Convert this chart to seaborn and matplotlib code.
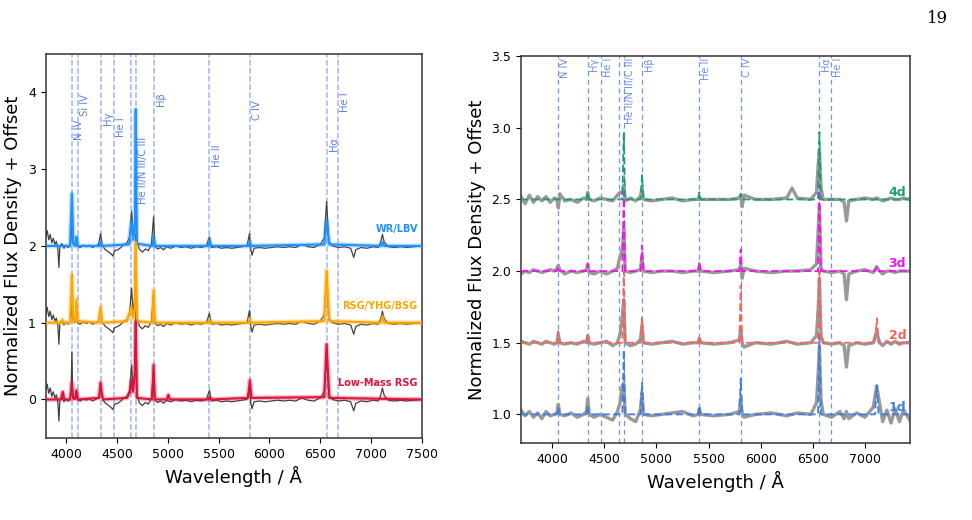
import numpy as np
import pandas as pd
import matplotlib
matplotlib.use("Agg")
import matplotlib.pyplot as plt
import seaborn as sns

# =========================
# Left panel: observed spectrum (relative to continuum) and templates
# =========================
LEFT_WL = [
    3800, 3815, 3830, 3845, 3860, 3875, 3890, 3905, 3920, 3930,
    3940, 3960, 3980, 4000, 4020, 4040, 4050, 4058, 4066, 4085,
    4100, 4112, 4140, 4170, 4200, 4230, 4260, 4290, 4320, 4340,
    4355, 4380, 4410, 4440, 4460, 4480, 4510, 4540, 4570, 4600,
    4625, 4645, 4660, 4675, 4686, 4697, 4720, 4750, 4780, 4810,
    4840, 4861, 4874, 4900, 4930, 4960, 4990, 5030, 5080, 5130,
    5180, 5230, 5280, 5330, 5380, 5411, 5430, 5480, 5530, 5580,
    5630, 5680, 5730, 5780, 5805, 5818, 5830, 5850, 5900, 5960,
    6020, 6080, 6140, 6200, 6260, 6320, 6380, 6440, 6500, 6540,
    6563, 6585, 6620, 6680, 6740, 6800, 6830, 6850, 6900, 6960,
    7020, 7070, 7095, 7112, 7130, 7170, 7230, 7290, 7350, 7420,
    7500,
]
LEFT_OBS = [
    0.12, 0.20, 0.08, 0.15, 0.04, 0.10, 0.02, 0.06, -0.04, -0.28,
    0.00, 0.03, -0.03, 0.01, -0.02, 0.00, 0.10, 0.62, 0.05, 0.00,
    0.12, 0.00, -0.02, 0.01, -0.01, 0.01, -0.02, 0.00, 0.02, 0.16,
    0.02, -0.04, -0.07, -0.10, -0.13, -0.06, -0.05, -0.02, 0.02, 0.04,
    0.12, 0.45, 0.15, 0.30, 1.15, 0.08, -0.04, -0.08, -0.04, -0.06,
    0.02, 0.38, 0.00, -0.04, -0.02, -0.05, -0.01, -0.03, 0.00, -0.02,
    -0.01, -0.03, -0.01, -0.02, 0.00, 0.12, -0.02, -0.01, -0.03, -0.02,
    -0.03, -0.02, -0.01, 0.00, 0.16, -0.05, -0.12, -0.03, -0.02, -0.03,
    -0.02, -0.01, -0.02, -0.01, -0.02, 0.02, -0.01, -0.02, 0.02, 0.10,
    0.58, 0.06, 0.00, -0.02, -0.01, -0.03, -0.15, -0.05, -0.02, -0.03,
    -0.01, -0.02, 0.05, 0.15, 0.05, -0.01, -0.02, -0.01, -0.02, -0.01,
    0.00,
]

WR_WL = [3800, 4040, 4058, 4072, 4095, 4103, 4115, 4330, 4340, 4350, 4620,
         4645, 4662, 4678, 4686, 4696, 4850, 4861, 4875, 5400, 5411, 5425,
         5795, 5808, 5820, 6540, 6563, 6590, 7100, 7115, 7130, 7500]
WR_FLUX = [0, 0, 0.68, 0.02, 0.0, 0.12, 0.0, 0.0, 0.05, 0.0, 0.02,
           0.32, 0.08, 0.3, 1.78, 0.03, 0.0, 0.12, 0.0, 0.0, 0.08, 0.0,
           0.0, 0.06, 0.0, 0.02, 0.33, 0.02, 0.0, 0.05, 0.0, 0.0]

RSG_WL = [3800, 3950, 3965, 3980, 4040, 4058, 4072, 4092, 4103, 4115, 4320,
          4340, 4355, 4600, 4640, 4660, 4676, 4686, 4697, 4848, 4861, 4874,
          5400, 5411, 5420, 5798, 5808, 5818, 6540, 6563, 6590, 7095, 7115,
          7130, 7500]
RSG_FLUX = [0, 0, 0.04, 0, 0, 0.62, 0.02, 0.02, 0.3, 0.02, 0,
            0.2, 0, 0.02, 0.2, 0.06, 0.2, 1.05, 0.02, 0, 0.42, 0,
            0, 0.03, 0, 0, 0.05, 0, 0.02, 0.68, 0.02, 0, 0.08,
            0, 0]

LM_WL = [3800, 3950, 3968, 3985, 4040, 4058, 4070, 4090, 4103, 4115, 4325,
         4340, 4352, 4365, 4600, 4630, 4645, 4660, 4676, 4686, 4697, 4848,
         4861, 4874, 4990, 5007, 5020, 5400, 5411, 5420, 5790, 5808, 5825,
         6540, 6563, 6590, 7500]
LM_FLUX = [0, 0, 0.1, 0, 0, 0.22, 0.01, 0.01, 0.12, 0, 0.02,
           0.22, 0.08, 0, 0.02, 0.1, 0.25, 0.1, 0.35, 1.02, 0.02, 0,
           0.45, 0, 0, 0.06, 0, 0, 0.03, 0, 0.02, 0.25, 0.02,
           0.03, 0.72, 0.02, 0]

LEFT_CLASSES = ["WR/LBV", "RSG/YHG/BSG", "Low-Mass RSG"]
LEFT_OFFSETS = [2, 1, 0]
LEFT_COLORS = ["#1E90FF", "#FFA500", "#DC143C"]

LEFT_LINES = [4058, 4116, 4340, 4471, 4640, 4686, 4861, 5411, 5808, 6563, 6678]
LEFT_LINE_LABELS = ["N IV", "Si IV", "Hγ", "He I", "", "He II/N III/C III",
                    "Hβ", "He II", "C IV", "Hα", "He I"]
LEFT_LABEL_TOPS = [3.64, 3.98, 3.75, 3.67, 3.4, 3.42, 4.0, 3.32, 3.9, 3.42, 4.0]

# =========================
# Right panel: epochs (gray observed, dashed model)
# =========================
R_WL = [
    3700, 3740, 3780, 3820, 3860, 3900, 3940, 3980, 4020, 4045,
    4058, 4072, 4120, 4180, 4240, 4300, 4328, 4340, 4354, 4400,
    4460, 4520, 4580, 4625, 4650, 4672, 4686, 4700, 4750, 4800,
    4845, 4861, 4876, 4950, 5050, 5150, 5250, 5350, 5400, 5411,
    5424, 5550, 5700, 5795, 5808, 5822, 5840, 5950, 6100, 6250,
    6300, 6350, 6480, 6535, 6552, 6563, 6578, 6600, 6680, 6760,
    6800, 6822, 6845, 6920, 7000, 7080, 7112, 7140, 7170, 7210,
    7250, 7290, 7330, 7370, 7430,
]
OBS_1D = [
    0.03, -0.01, 0.02, -0.02, 0.01, -0.03, 0.02, -0.01, 0.0, 0.01,
    0.07, 0.0, -0.01, 0.01, -0.02, 0.0, 0.02, 0.11, 0.0, -0.02,
    0.0, -0.02, -0.04, 0.02, 0.08, 0.2, 0.22, 0.0, -0.03, -0.05,
    0.03, 0.15, 0.0, -0.01, 0.0, 0.01, 0.02, -0.01, 0.0, 0.04,
    0.0, -0.01, 0.0, 0.02, 0.12, 0.0, -0.02, 0.0, 0.01, -0.01,
    0.0, 0.01, 0.0, 0.08, 0.3, 0.47, 0.1, 0.0, -0.02, 0.02,
    -0.03, 0.02, -0.03, 0.01, -0.02, 0.05, 0.2, 0.08, -0.05, 0.03,
    -0.06, 0.04, -0.05, 0.03, -0.04,
]
OBS_2D = [
    0.01, 0.0, -0.01, 0.01, 0.0, -0.01, 0.01, 0.0, -0.01, 0.0,
    0.06, 0.0, -0.01, 0.0, -0.01, 0.01, 0.0, 0.05, 0.0, -0.01,
    0.0, 0.01, -0.02, 0.0, 0.06, 0.18, 0.3, 0.0, -0.02, -0.01,
    0.02, 0.12, 0.0, -0.01, 0.0, 0.01, -0.01, 0.0, 0.0, 0.03,
    0.0, -0.01, 0.0, 0.02, 0.1, 0.0, -0.03, 0.0, -0.01, 0.01,
    0.0, -0.01, 0.0, 0.05, 0.25, 0.45, 0.05, 0.0, -0.01, 0.0,
    -0.02, -0.17, -0.02, 0.0, -0.01, 0.0, 0.08, 0.0, -0.02, 0.01,
    -0.01, 0.01, -0.01, 0.0, 0.0,
]
OBS_3D = [
    -0.02, 0.0, -0.01, 0.01, 0.0, -0.01, 0.0, 0.01, 0.0, 0.02,
    0.04, 0.01, -0.02, 0.0, -0.01, 0.0, 0.01, 0.05, -0.01, -0.02,
    0.0, -0.02, 0.0, 0.02, 0.1, 0.15, 0.3, 0.0, -0.01, 0.0,
    0.01, 0.1, 0.0, -0.01, 0.0, 0.0, -0.01, 0.0, 0.0, 0.03,
    0.0, -0.01, 0.0, 0.01, 0.05, -0.05, 0.02, 0.0, -0.01, 0.0,
    0.0, 0.0, 0.01, 0.05, 0.3, 0.45, 0.02, 0.0, -0.01, 0.0,
    -0.02, -0.2, -0.02, 0.0, 0.01, -0.01, 0.03, 0.0, -0.02, 0.0,
    0.0, -0.01, 0.0, 0.0, 0.0,
]
OBS_4D = [
    0.02, -0.03, 0.03, -0.02, 0.02, -0.01, 0.02, -0.02, 0.01, 0.0,
    -0.06, 0.04, -0.01, 0.0, -0.02, 0.01, 0.0, 0.05, 0.0, -0.01,
    0.01, 0.0, -0.01, 0.03, 0.05, 0.04, 0.1, -0.01, 0.01, -0.01,
    0.02, 0.08, 0.0, -0.01, 0.0, 0.01, -0.01, 0.0, 0.0, 0.02,
    0.0, 0.0, 0.0, 0.01, 0.03, -0.05, 0.03, 0.0, 0.0, 0.01,
    0.08, 0.01, 0.0, 0.05, 0.25, 0.35, 0.08, 0.0, 0.0, 0.0,
    -0.02, -0.15, -0.01, 0.0, 0.01, 0.0, 0.01, 0.0, -0.01, 0.0,
    0.01, 0.0, 0.0, 0.01, 0.0,
]

MODEL_WL = [3700, 4045, 4058, 4070, 4328, 4340, 4352, 4672, 4686, 4698,
            4848, 4861, 4874, 5400, 5411, 5422, 5795, 5808, 5820, 6550,
            6563, 6576, 7095, 7115, 7130, 7430]
MODEL_1D = [0, 0, 0.05, 0, 0, 0.06, 0, 0, 0.45, 0, 0, 0.22, 0, 0, 0.06, 0,
            0, 0.25, 0, 0, 0.55, 0, 0, 0.2, 0, 0]
MODEL_2D = [0, 0, 0.08, 0, 0, 0.06, 0, 0, 0.5, 0, 0, 0.18, 0, 0, 0.05, 0,
            0, 0.4, 0, 0, 0.5, 0, 0, 0.17, 0, 0]
MODEL_3D = [0, 0, 0.03, 0, 0, 0.05, 0, 0, 0.55, 0, 0, 0.18, 0, 0, 0.07, 0,
            0, 0.15, 0, 0, 0.6, 0, 0, 0.03, 0, 0]
MODEL_4D = [0, 0, 0.0, 0, 0, 0.05, 0, 0, 0.47, 0, 0, 0.17, 0, 0, 0.05, 0,
            0, 0.04, 0, 0, 0.47, 0, 0, 0.0, 0, 0]

EPOCHS = ["1d", "2d", "3d", "4d"]
EPOCH_OFFSETS = [1.0, 1.5, 2.0, 2.5]
EPOCH_COLORS = ["#3C7DE6", "#F4645A", "#F015E8", "#1B9E77"]

RIGHT_LINES = [4058, 4340, 4471, 4640, 4686, 4861, 5411, 5808, 6563, 6678]
RIGHT_LINE_LABELS = ["N IV", "Hγ", "He I", "", "He II/N III/C III", "Hβ",
                     "He II", "C IV", "Hα", "He I"]


def line(ax, x, y, **kw):
    sns.lineplot(x=np.asarray(x), y=np.asarray(y), ax=ax, estimator=None,
                 sort=False, **kw)


fig = plt.figure(figsize=(9.72, 5.2), dpi=100)
axL = fig.add_axes([0.047, 0.158, 0.387, 0.738])
axR = fig.add_axes([0.536, 0.148, 0.400, 0.744])

# ---- left panel ----
for w, lab, top in zip(LEFT_LINES, LEFT_LINE_LABELS, LEFT_LABEL_TOPS):
    axL.axvline(w, color="#4169E1", ls="--", lw=1.1, alpha=0.5, zorder=1)
    if lab:
        axL.text(w + 20, top, lab, rotation=90, ha="left", va="top",
                 fontsize=7.2, color="#4169E1", alpha=0.85)

models = [(WR_WL, WR_FLUX), (RSG_WL, RSG_FLUX), (LM_WL, LM_FLUX)]
for (mw, mf), name, off, col in zip(models, LEFT_CLASSES, LEFT_OFFSETS, LEFT_COLORS):
    line(axL, LEFT_WL, np.array(LEFT_OBS) + off, color="#404040", lw=0.9, zorder=2)
    line(axL, mw, np.array(mf) + off, color=col, lw=3.5, alpha=0.3, zorder=3)
    line(axL, mw, np.array(mf) + off, color=col, lw=1.5, zorder=4)
    axL.text(7460, off + 0.22, name, ha="right", va="center", fontsize=7,
             fontweight="bold", color=col)

axL.set_xlim(3800, 7500)
axL.set_ylim(-0.5, 4.5)
axL.set_xticks(range(4000, 7501, 500))
axL.set_yticks([0, 1, 2, 3, 4])
axL.set_xlabel("Wavelength / Å", fontsize=13)
axL.set_ylabel("Normalized Flux Density + Offset", fontsize=13)

# ---- right panel ----
for w, lab in zip(RIGHT_LINES, RIGHT_LINE_LABELS):
    axR.axvline(w, color="#4A7BE8", ls=(0, (4, 3)), lw=0.9, alpha=0.8, zorder=1)
    if lab:
        axR.text(w + 15, 3.49, lab, rotation=90, ha="left", va="top",
                 fontsize=7, color="#6A8FE8", clip_on=True)

obs = [OBS_1D, OBS_2D, OBS_3D, OBS_4D]
mods = [MODEL_1D, MODEL_2D, MODEL_3D, MODEL_4D]
for o, m, ep, off, col in zip(obs, mods, EPOCHS, EPOCH_OFFSETS, EPOCH_COLORS):
    line(axR, R_WL, np.array(o) + off, color="#999999", lw=2.4, zorder=2)
    line(axR, MODEL_WL, np.array(m) + off, color=col, lw=1.3,
         linestyle=(0, (4, 2)), zorder=3)
    axR.text(7395, off + 0.005, ep, ha="right", va="bottom", fontsize=9,
             fontweight="bold", color=col)

axR.set_xlim(3700, 7430)
axR.set_ylim(0.8, 3.5)
axR.set_xticks(range(4000, 7001, 500))
axR.set_yticks([1.0, 1.5, 2.0, 2.5, 3.0, 3.5])
axR.set_xlabel("Wavelength / Å", fontsize=13)
axR.set_ylabel("Normalized Flux Density + Offset", fontsize=13)

for ax in (axL, axR):
    ax.tick_params(labelsize=9)
    for s in ax.spines.values():
        s.set_color("#333333")
        s.set_linewidth(1.1)

fig.text(0.975, 0.965, "19", ha="right", va="center", fontsize=12,
         family="DejaVu Serif")

fig.savefig("out.png", dpi=100)
plt.close(fig)
